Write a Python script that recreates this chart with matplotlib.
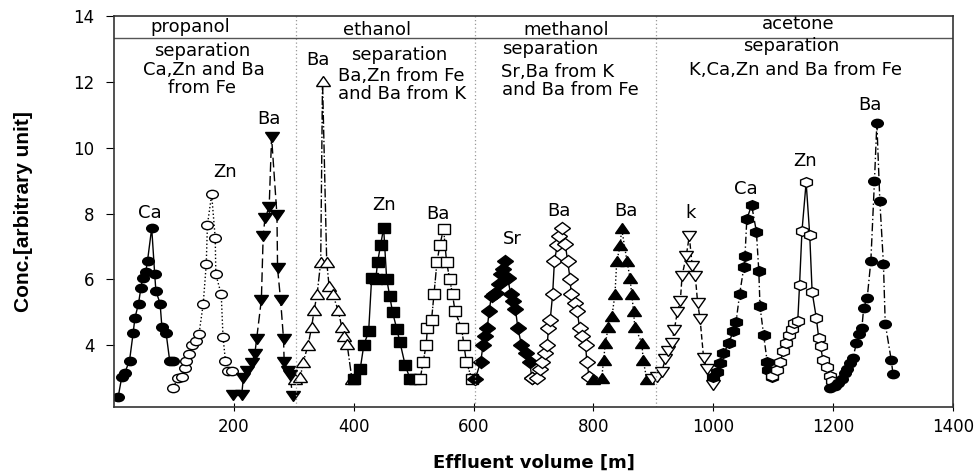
import matplotlib
matplotlib.use("Agg")
import matplotlib.pyplot as plt
from matplotlib.markers import MarkerStyle
from matplotlib.transforms import Affine2D

plt.rcParams['font.family'] = ['DejaVu Sans']

# ---------------- data ----------------
# propanol
ca_p_x = [7, 13, 18, 26, 32, 35, 41, 45, 48, 53, 56, 63, 68, 70, 77, 80, 87, 93, 99]
ca_p_y = [2.41, 3.02, 3.15, 3.52, 4.36, 4.82, 5.26, 5.74, 6.05, 6.22, 6.56, 7.56, 6.15, 5.64, 5.26, 4.54, 4.36, 3.52, 3.52]

zn_p_x = [99, 107, 113, 118, 121, 126, 131, 137, 142, 149, 154, 156, 163, 169, 170, 179, 182, 186, 191, 197]
zn_p_y = [2.7, 3.0, 3.02, 3.31, 3.52, 3.72, 4.0, 4.13, 4.34, 5.26, 6.46, 7.66, 8.58, 7.25, 6.15, 5.54, 4.24, 3.52, 3.21, 3.21]

ba_p_x = [199, 213, 216, 222, 230, 235, 238, 246, 249, 252, 259, 263, 272, 273, 278, 283, 284, 290, 294, 298]
ba_p_y = [2.46, 2.46, 3.0, 3.21, 3.46, 3.72, 4.17, 5.38, 7.33, 7.85, 8.2, 10.33, 7.95, 6.33, 5.38, 4.17, 3.49, 3.21, 3.08, 2.43]

# ethanol
ba_e_x = [302, 311, 316, 324, 330, 334, 339, 345, 348, 355, 359, 365, 374, 380, 384, 389, 397]
ba_e_y = [2.97, 3.02, 3.49, 4.0, 4.56, 5.06, 5.54, 6.53, 12.05, 6.53, 5.79, 5.54, 5.06, 4.56, 4.28, 4.03, 2.97]

zn_e_x = [400, 411, 417, 425, 430, 437, 440, 445, 450, 455, 460, 465, 472, 477, 486, 494, 502]
zn_e_y = [2.97, 3.28, 4.0, 4.41, 6.05, 6.02, 6.53, 7.05, 7.56, 6.02, 5.5, 4.99, 4.48, 4.1, 3.38, 2.97, 2.97]

ba2_e_x = [511, 516, 521, 523, 530, 534, 539, 544, 550, 555, 560, 565, 569, 580, 584, 588, 597]
ba2_e_y = [2.97, 3.49, 4.0, 4.51, 4.77, 5.54, 6.53, 7.05, 7.54, 6.53, 6.02, 5.54, 5.03, 4.51, 4.0, 3.49, 2.97]

# methanol
sr_m_x = [603, 612, 616, 619, 623, 626, 630, 634, 638, 642, 646, 650, 653, 657, 662, 666, 670, 674, 680, 687, 694, 697]
sr_m_y = [2.97, 3.49, 4.0, 4.26, 4.51, 5.03, 5.49, 5.54, 5.59, 5.85, 6.15, 6.31, 6.56, 6.05, 5.54, 5.33, 5.08, 4.51, 4.0, 3.74, 3.49, 3.0]

ba_m_x = [697, 706, 711, 714, 720, 723, 725, 728, 732, 735, 740, 743, 747, 753, 757, 761, 763, 770, 773, 777, 781, 787, 789, 793]
ba_m_y = [3.0, 3.0, 3.28, 3.49, 3.74, 4.0, 4.51, 4.77, 5.54, 6.56, 7.05, 7.33, 7.56, 7.08, 6.56, 6.02, 5.54, 5.28, 5.03, 4.51, 4.26, 4.0, 3.49, 3.02]

ba2_m_x = [800, 814, 817, 820, 825, 831, 836, 839, 845, 847, 856, 861, 864, 867, 869, 881, 883, 889]
ba2_m_y = [2.97, 3.0, 3.54, 4.05, 4.56, 4.87, 5.54, 6.56, 7.03, 7.56, 6.56, 6.05, 5.54, 5.03, 4.56, 4.05, 3.54, 2.97]

# acetone
k_a_x = [898, 906, 914, 920, 925, 931, 935, 940, 945, 948, 955, 960, 965, 970, 974, 978, 984, 989, 1000]
k_a_y = [2.97, 3.02, 3.18, 3.56, 3.82, 4.07, 4.46, 4.99, 5.33, 6.1, 6.72, 7.31, 6.41, 6.1, 5.28, 4.79, 3.59, 3.28, 2.77]

ca_a_x = [1000, 1006, 1012, 1017, 1026, 1033, 1038, 1044, 1051, 1053, 1056, 1064, 1072, 1076, 1078, 1084, 1090, 1092, 1098]
ca_a_y = [3.02, 3.18, 3.44, 3.74, 4.05, 4.41, 4.69, 5.54, 6.36, 6.72, 7.82, 8.26, 7.45, 6.26, 5.18, 4.31, 3.49, 3.23, 3.02]

zn_a_x = [1098, 1106, 1112, 1117, 1122, 1126, 1131, 1134, 1141, 1144, 1148, 1155, 1161, 1165, 1172, 1176, 1179, 1183, 1189, 1194, 1198]
zn_a_y = [3.05, 3.25, 3.49, 3.82, 4.05, 4.31, 4.48, 4.67, 4.72, 5.82, 7.46, 8.95, 7.35, 5.61, 4.82, 4.21, 3.97, 3.54, 3.33, 3.05, 2.9]

ba_a_x = [1195, 1204, 1209, 1215, 1220, 1224, 1229, 1233, 1239, 1243, 1248, 1251, 1257, 1263, 1269, 1273, 1278, 1284, 1287, 1297, 1300]
ba_a_y = [2.7, 2.74, 2.84, 2.97, 3.13, 3.28, 3.44, 3.61, 4.05, 4.34, 4.51, 5.13, 5.44, 6.56, 8.99, 10.75, 8.38, 6.46, 4.65, 3.54, 3.11]

x_ticks = [200, 400, 600, 800, 1000, 1200, 1400]
y_ticks = [4, 6, 8, 10, 12, 14]
solvent_bounds = [303, 603, 905]
solvents = ["propanol", "ethanol", "methanol", "acetone"]
solvent_x = [127, 439, 754, 1142]
solvent_y = [13.68, 13.6, 13.6, 13.78]
header_line_y = 13.35

peak_labels = ["Ca", "Zn", "Ba", "Ba", "Zn", "Ba", "Sr", "Ba", "Ba", "k", "Ca", "Zn", "Ba"]
peak_label_x = [60, 185, 258, 340, 450, 540, 665, 742, 855, 962, 1055, 1154, 1262]
peak_label_y = [8.03, 9.28, 10.87, 12.67, 8.25, 8.0, 7.21, 8.08, 8.07, 8.03, 8.75, 9.59, 11.31]

note_lines = ["separation", "Ca,Zn and Ba", "from Fe",
              "separation", "Ba,Zn from Fe", "and Ba from K",
              "separation", "Sr,Ba from K", "and Ba from Fe",
              "separation", "K,Ca,Zn and Ba from Fe"]
note_x = [148, 150, 147, 476, 479, 480, 728, 741, 761, 1130, 1138]
note_y = [12.95, 12.37, 11.82, 12.83, 12.18, 11.63, 13.02, 12.31, 11.75, 13.11, 12.37]

# ---------------- figure ----------------
fig = plt.figure(figsize=(9.79, 4.74), dpi=100)
ax = fig.add_axes([0.1164, 0.1414, 0.857, 0.8238])

k = 'black'
stretch = Affine2D().scale(1.4, 1.0)
series = [
    (ca_p_x, ca_p_y, 'o', k, '-', 6),
    (zn_p_x, zn_p_y, 'o', 'white', ':', 6),
    (ba_p_x, ba_p_y, 'v', k, (0, (7, 3)), 7),
    (ba_e_x, ba_e_y, '^', 'white', '-.', 7),
    (zn_e_x, zn_e_y, 's', k, '-', 6.5),
    (ba2_e_x, ba2_e_y, 's', 'white', (0, (6, 1, 1, 1)), 6.5),
    (sr_m_x, sr_m_y, 'D', k, '-', 6),
    (ba_m_x, ba_m_y, 'D', 'white', '-', 6),
    (ba2_m_x, ba2_m_y, '^', k, ':', 7),
    (k_a_x, k_a_y, 'v', 'white', (0, (4, 2)), 7),
    (ca_a_x, ca_a_y, 'h', k, (0, (5, 2, 1, 2)), 7),
    (zn_a_x, zn_a_y, 'h', 'white', '-', 7),
    (ba_a_x, ba_a_y, 'o', k, (0, (6, 2, 1, 2)), 6),
]
for xs, ys, mk, fc, ls, ms in series:
    ax.plot(xs, ys, linestyle=ls, color=k, linewidth=1.0,
            marker=MarkerStyle(mk, transform=stretch), markersize=ms,
            markerfacecolor=fc, markeredgecolor=k, markeredgewidth=1.0)

for b in solvent_bounds:
    ax.axvline(b, color='#999999', linestyle=(0, (1, 2)), linewidth=0.9)
ax.axhline(header_line_y, color='#555555', linewidth=1.0)

for s, sx, sy in zip(solvents, solvent_x, solvent_y):
    ax.text(sx, sy, s, ha='center', va='center', fontsize=13)
for t, tx, ty in zip(peak_labels, peak_label_x, peak_label_y):
    ax.text(tx, ty, t, ha='center', va='center', fontsize=13)
for t, tx, ty in zip(note_lines, note_x, note_y):
    ax.text(tx, ty, t, ha='center', va='center', fontsize=13)

ax.set_xlim(0, 1400)
ax.set_ylim(2.11, 14)
ax.set_xticks(x_ticks)
ax.set_yticks(y_ticks)
ax.tick_params(axis='x', direction='inout', length=6, labelsize=12, pad=5)
ax.tick_params(axis='y', direction='out', length=6, labelsize=12, pad=8)
for sp in ax.spines.values():
    sp.set_linewidth(1.2)
    sp.set_color('#333333')

ax.set_xlabel("Effluent volume [m]", fontsize=13, fontweight='bold')
ax.set_ylabel("Conc.[arbitrary unit]", fontsize=15, fontweight='bold',
              family=['Liberation Sans', 'DejaVu Sans'])
ax.xaxis.set_label_coords(0.5, -0.12)
ax.yaxis.set_label_coords(-0.097, 0.5)

fig.savefig("out.png", dpi=100)
